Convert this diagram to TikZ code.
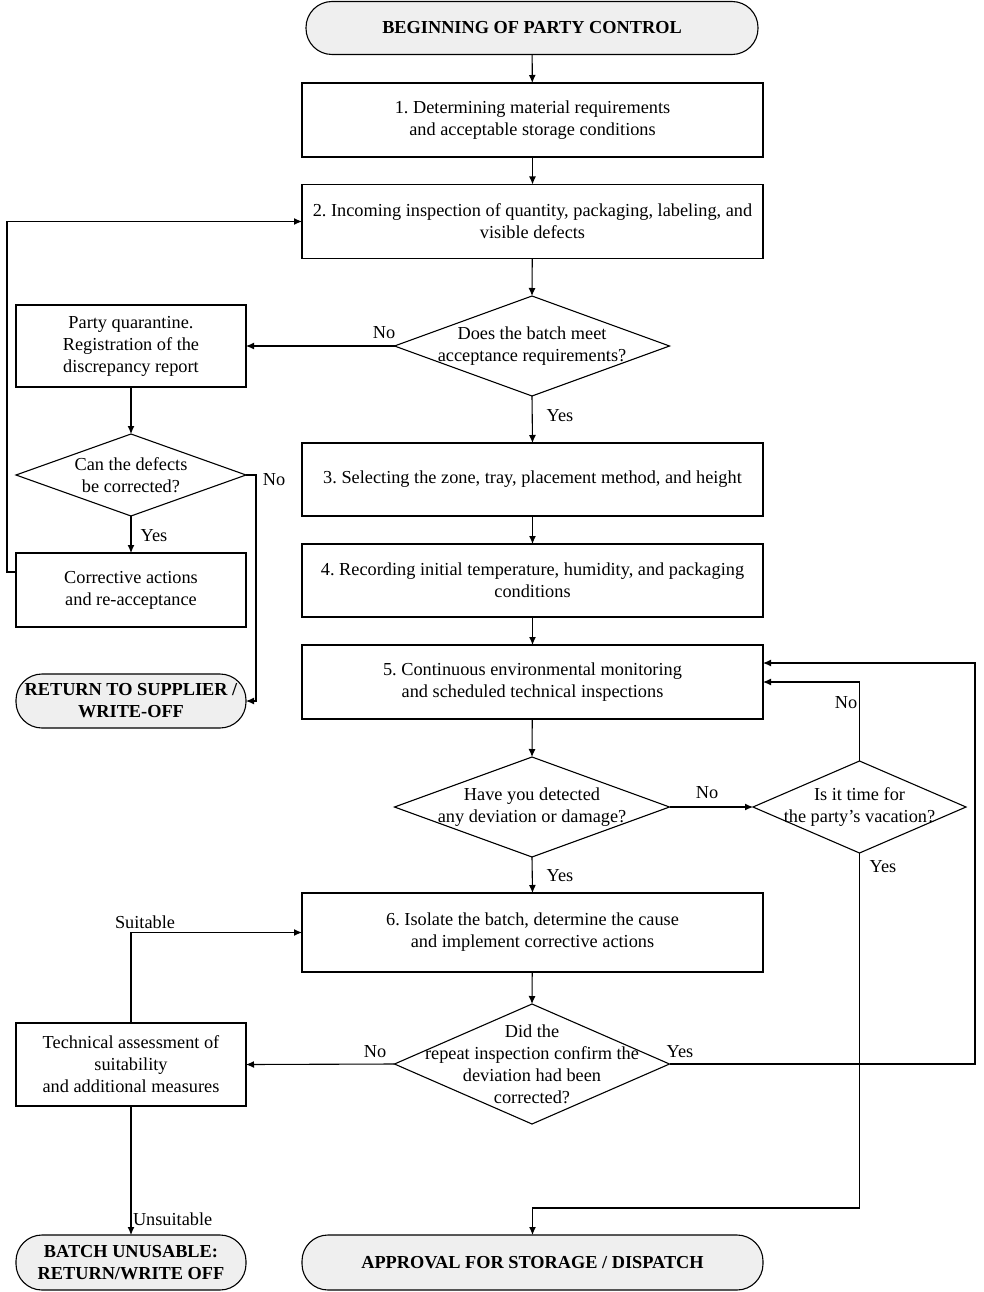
\documentclass[tikz,border=0pt]{standalone}
\usepackage{fontspec}
\setmainfont{Liberation Serif}
\usetikzlibrary{shapes.geometric,arrows.meta}
\definecolor{termfill}{HTML}{EFEFEF}
\frenchspacing
\begin{document}
\begin{tikzpicture}[x=1pt,y=-1pt,
  font=\fontsize{18.3}{22}\selectfont,
  every node/.style={inner sep=0pt,outer sep=0pt},
  procbox/.style={draw,line width=1.1pt,rectangle,align=center,minimum width=461pt,minimum height=74pt},
  sidebox/.style={draw,line width=1.1pt,rectangle,align=center,minimum width=230pt,minimum height=82pt},
  term/.style={draw,line width=1.1pt,rectangle,rounded corners=26pt,fill=termfill,align=center,font=\fontsize{18.3}{22}\selectfont\bfseries},
  dec/.style={draw,line width=1.1pt,diamond,minimum width=275pt,minimum height=100pt},
  arr/.style={line width=1.1pt,-{Latex[length=8pt,width=7pt]}},
  ln/.style={line width=1.1pt},
  lbl/.style={font=\fontsize{18.3}{22}\selectfont}]
\useasboundingbox (0,0) rectangle (984,1292);
% main column
\node[term,minimum width=452pt,minimum height=53pt] (start) at (532,28) {BEGINNING OF PARTY CONTROL};
\node[procbox] (b1) at (532.5,120) {1. Determining material requirements\\and acceptable storage conditions};
\node[procbox] (b2) at (532.5,221.5) {2. Incoming inspection of quantity, packaging, labeling, and\\visible defects};
\node[dec] (d1) at (532,346) [label={[align=center,lbl]center:Does the batch meet\\acceptance requirements?}] {};
\node[procbox,minimum height=73pt] (b3) at (532.5,479.5) {3. Selecting the zone, tray, placement method, and height};
\node[procbox,minimum height=73pt] (b4) at (532.5,580.5) {4. Recording initial temperature, humidity, and packaging\\conditions};
\node[procbox] (b5) at (532.5,682) {5. Continuous environmental monitoring\\and scheduled technical inspections};
\node[dec] (d3) at (532,807) [label={[align=center,lbl]center:Have you detected\\any deviation or damage?}] {};
\node[dec,minimum width=213pt,minimum height=92pt] (d4) at (859.5,807) [label={[align=center,lbl]center:Is it time for\\the party's vacation?}] {};
\node[procbox,minimum height=79pt] (b6) at (532.5,932.5) {6. Isolate the batch, determine the cause\\and implement corrective actions};
\node[dec,minimum height=120pt] (d5) at (532,1064) [label={[align=center,lbl]center:Did the\\repeat inspection confirm the\\deviation had been\\corrected?}] {};
\node[term,minimum width=461pt,minimum height=55pt] (appr) at (532.5,1262.5) {APPROVAL FOR STORAGE / DISPATCH};
% left column
\node[sidebox] (q) at (131,346) {Party quarantine.\\Registration of the\\discrepancy report};
\node[dec,minimum width=230pt,minimum height=82pt] (d2) at (131,475) [label={[align=center,lbl]center:Can the defects\\be corrected?}] {};
\node[sidebox,minimum height=74pt] (ca) at (131,590) {Corrective actions\\and re-acceptance};
\node[term,minimum width=230pt,minimum height=54pt] (ret) at (131,701) {RETURN TO SUPPLIER /\\WRITE-OFF};
\node[sidebox,minimum height=83pt] (ta) at (131,1064.5) {Technical assessment of\\suitability\\and additional measures};
\node[term,minimum width=230pt,minimum height=55pt] (bu) at (131,1262.5) {BATCH UNUSABLE:\\RETURN/WRITE OFF};
% connectors
\draw[arr] (start) -- (b1);
\draw[arr] (b1) -- (b2);
\draw[arr] (b2) -- (d1.north);
\draw[arr] (d1.west) -- (q.east);
\node[lbl] (lno1) at (384,333) {No};
\draw[arr] (d1.south) -- (b3.north);
\node[lbl] (lyes1) at (560,416) {Yes};
\draw[arr] (q) -- (d2.north);
\draw[arr] (d2.south) -- (ca.north);
\node[lbl] (lyes2) at (154,536) {Yes};
\draw[arr] (d2.east) -- (256,475) |- (ret.east);
\node[lbl] (lno2) at (274,480) {No};
\draw[arr] (ca.west |- 0,572) -- (7,572) |- (b2.west);
\draw[arr] (b3) -- (b4);
\draw[arr] (b4) -- (b5);
\draw[arr] (b5) -- (d3.north);
\draw[arr] (d3.east) -- (d4.west);
\node[lbl] (lno3) at (707,793) {No};
\draw[arr] (d4.north) |- (b5.east);
\node[lbl] (lno4) at (846,703) {No};
\draw[arr] (d3.south) -- (b6.north);
\node[lbl] (lyes3) at (560,876) {Yes};
\draw[arr] (d4.south) -- (859.5,1208) -| (appr.north);
\node[lbl] (lyes4) at (883,867) {Yes};
\draw[arr] (b6) -- (d5.north);
\draw[arr] (d5.west) -- (ta.east);
\node[lbl] (lno5) at (375,1052) {No};
\draw[arr] (d5.east) -- (975,1064) |- (b5.east |- 0,663);
\node[lbl] (lyes5) at (680,1052) {Yes};
\draw[arr] (ta.north) |- (b6.west);
\node[lbl] (lsuit) at (145,922) {Suitable};
\draw[arr] (ta.south) -- (bu.north);
\node[lbl,anchor=west] (lunsuit) at (133,1219) {Unsuitable};
\end{tikzpicture}
\end{document}
